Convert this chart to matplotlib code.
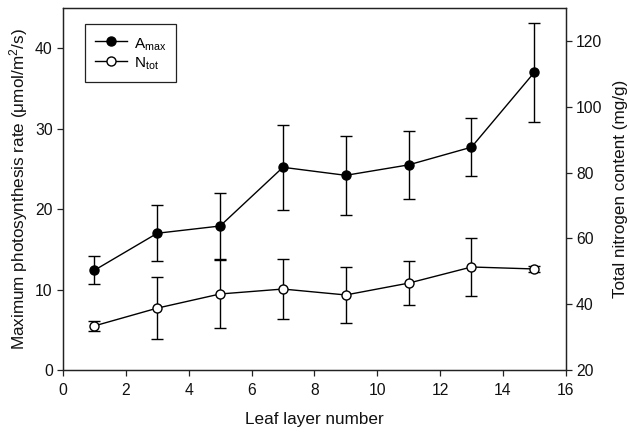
import matplotlib
matplotlib.use("Agg")
import matplotlib.pyplot as plt
from matplotlib.lines import Line2D

plt.rcParams['font.family'] = ['Liberation Sans', 'DejaVu Sans']
plt.rcParams['mathtext.fontset'] = 'custom'
plt.rcParams['mathtext.rm'] = 'Liberation Sans'
plt.rcParams['mathtext.it'] = 'Liberation Sans:italic'

leaf_layer = [1, 3, 5, 7, 9, 11, 13, 15]
amax = [12.4, 17.0, 17.9, 25.2, 24.2, 25.5, 27.7, 37.0]
amax_err = [1.75, 3.5, 4.1, 5.3, 4.9, 4.2, 3.6, 6.2]
ntot = [33.4, 38.8, 43.1, 44.6, 42.8, 46.4, 51.3, 50.7]
ntot_err = [1.5, 9.4, 10.3, 9.0, 8.5, 6.8, 8.7, 1.0]

fig = plt.figure(figsize=(6.3, 4.34), dpi=100)
ax = fig.add_axes([0.1, 0.1475, 0.798, 0.834])
ax2 = ax.twinx()

ms = 6.5
ax.errorbar(leaf_layer, amax, yerr=amax_err, color='black', lw=1.0,
            marker='o', ms=ms, mfc='black', mec='black', capsize=4, elinewidth=1.0, capthick=1.0, zorder=3)
ax2.errorbar(leaf_layer, ntot, yerr=ntot_err, color='black', lw=1.0,
             marker='o', ms=ms, mfc='white', mec='black', capsize=4, elinewidth=1.0, capthick=1.0, zorder=3)

ax.set_xlim(0, 16)
ax.set_ylim(0, 45)
ax2.set_ylim(20, 130)
ax.set_xticks(range(0, 17, 2))
ax.set_yticks([0, 10, 20, 30, 40])
ax2.set_yticks([20, 40, 60, 80, 100, 120])

for a in (ax, ax2):
    a.tick_params(direction='out', length=4.3, width=0.9, labelsize=11.3, pad=3, colors='#222222', labelcolor='#111111')
    for s in a.spines.values():
        s.set_linewidth(0.9)
        s.set_color('#222222')
ax.tick_params(axis='x', pad=5)

ax.set_xlabel('Leaf layer number', fontsize=12.3, labelpad=10, color='#111111')
ax.set_ylabel('Maximum photosynthesis rate (μmol/m$^{2}$/s)', fontsize=12.3, labelpad=4, color='#111111')
ax2.set_ylabel('Total nitrogen content (mg/g)', fontsize=12.3, labelpad=8, color='#111111')

handles = [Line2D([], [], color='black', lw=1.0, marker='o', ms=ms, mfc='black', mec='black'),
           Line2D([], [], color='black', lw=1.0, marker='o', ms=ms, mfc='white', mec='black')]
leg = ax.legend(handles, ['A$_{\\mathrm{max}}$', 'N$_{\\mathrm{tot}}$'], loc='upper left',
                bbox_to_anchor=(0.044, 0.956), fancybox=False, framealpha=1, edgecolor='#222222',
                fontsize=11, handlelength=2.1, handleheight=1.5, borderpad=0.65, labelspacing=0.05,
                handletextpad=0.45, borderaxespad=0.0)
leg.get_frame().set_linewidth(0.9)

fig.savefig('out.png', dpi=100)
